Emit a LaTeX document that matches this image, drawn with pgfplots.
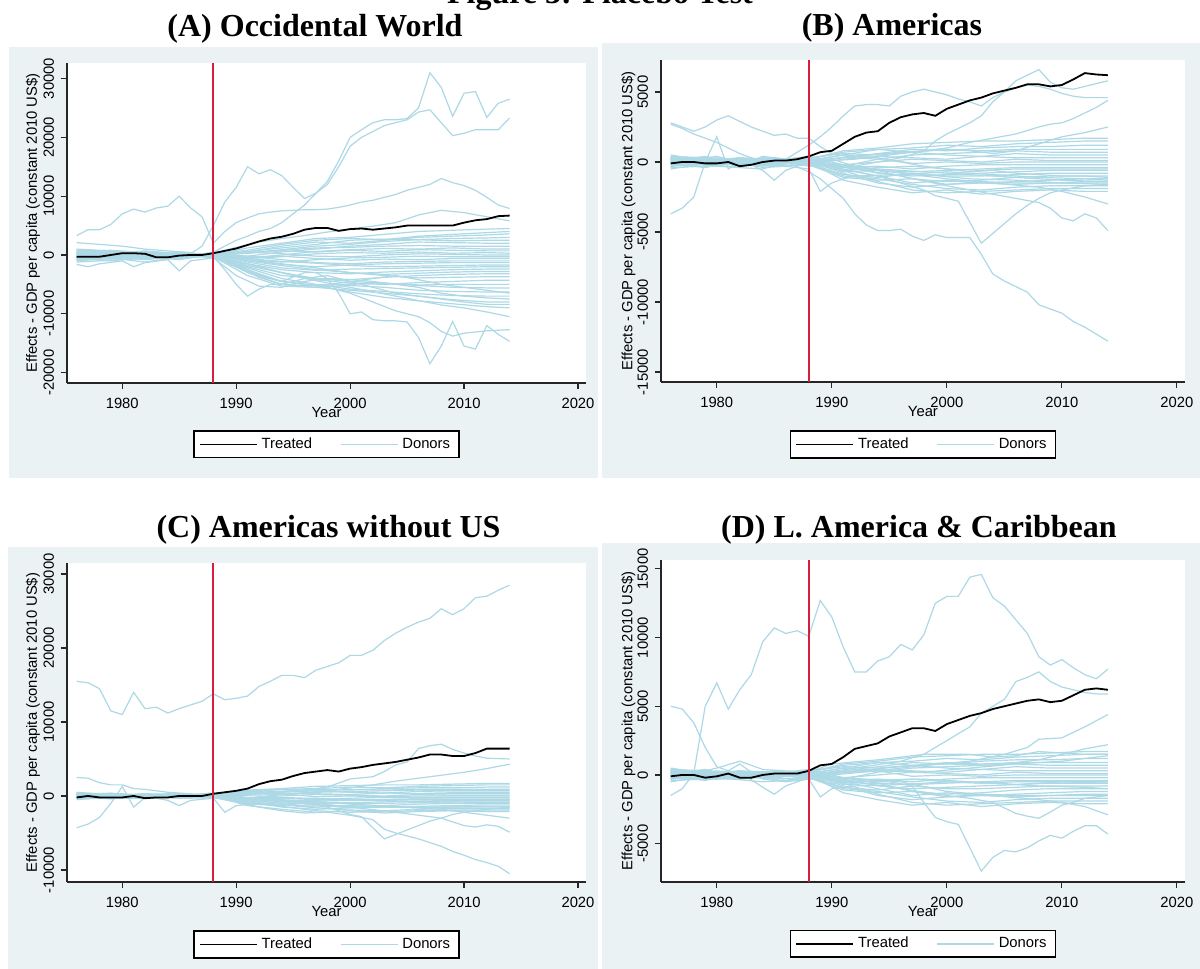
\documentclass[border=0pt]{standalone}
\usepackage{fontspec}
\setmainfont{Liberation Sans}
\newfontfamily\titlefont{Liberation Serif}
\usepackage{pgfplots}
\pgfplotsset{compat=1.18}
\definecolor{bgcol}{RGB}{234,242,243}
\definecolor{donorblue}{RGB}{173,216,230}
\definecolor{vred}{RGB}{215,30,60}
\newcommand{\lab}{\fontsize{7.4}{8.5}\selectfont}
\newcommand{\ttl}{\titlefont\bfseries\fontsize{16}{18}\selectfont}
\pgfplotsset{
 donor/.style={donorblue, line width=0.6pt, forget plot},
 treat/.style={black, line width=0.9pt, forget plot},
 stata/.style={
  scale only axis, anchor=south west,
  axis x line*=bottom, axis y line*=left,
  axis line style={-, line width=0.8pt, black!85},
  axis background/.style={fill=white},
  tick align=outside, major tick length=3pt,
  tick style={black!85, line width=0.6pt},
  xmin=1975.15, xmax=2020.7,
  xtick={1980,1990,2000,2010,2020},
  tick label style={font=\lab},
  label style={font=\lab},
  /pgf/number format/assume math mode=true,
  /pgf/number format/1000 sep={},
  /pgf/number format/fixed,
  scaled ticks=false,
  yticklabel style={rotate=90, anchor=south},
  xticklabel style={yshift=-1pt},
  xlabel={Year},
  ylabel={Effects - GDP per capita (constant 2010 US\$)},
  xlabel style={at={(axis description cs:0.5,0)}, anchor=center, yshift=-15pt},
  legend columns=2,
  legend style={draw=black, line width=0.8pt, fill=white, font=\lab, anchor=center,
    inner xsep=2.5pt, inner ysep=1.2pt,
    /tikz/every even column/.append style={column sep=12pt}},
  legend image code/.code={\draw[##1] (0pt,0pt) -- (28.5pt,0pt);},
 },
}
\newcommand{\D}[1]{\addplot[donor] coordinates {#1};}
\newcommand{\LegendEntries}{%
 \addlegendimage{black, line width=0.9pt}\addlegendentry{Treated}
 \addlegendimage{donorblue, line width=0.6pt}\addlegendentry{Donors}}
% donor pool shared by the three American panels
\newcommand{\AmBulk}{%
\D{(1976,300)(1979,-100)(1982,200)(1985,100)(1988,200)(1991,800)(1994,1000)(1997,1300)(2000,1400)(2003,1500)(2006,1500)(2009,1600)(2012,1700)(2014,1700)}
\D{(1976,-200)(1979,200)(1982,-100)(1985,0)(1988,100)(1991,500)(1994,900)(1997,1000)(2000,1200)(2003,1100)(2006,1300)(2009,1400)(2012,1500)(2014,1500)}
\D{(1976,400)(1979,300)(1982,0)(1985,200)(1988,0)(1991,300)(1994,600)(1997,900)(2000,800)(2003,1000)(2006,1100)(2009,1100)(2012,1200)(2014,1200)}
\D{(1976,-300)(1979,-100)(1982,300)(1985,-200)(1988,300)(1991,600)(1994,500)(1997,700)(2000,900)(2003,800)(2006,900)(2009,900)(2012,900)(2014,900)}
\D{(1976,100)(1979,400)(1982,-200)(1985,300)(1988,-100)(1991,-300)(1994,200)(1997,500)(2000,600)(2003,700)(2006,800)(2009,700)(2012,700)(2014,700)}
\D{(1976,500)(1979,100)(1982,300)(1985,-100)(1988,200)(1991,700)(1994,900)(1997,700)(2000,500)(2003,400)(2006,600)(2009,500)(2012,500)(2014,500)}
\D{(1976,-400)(1979,-300)(1982,-100)(1985,-300)(1988,-200)(1991,200)(1994,400)(1997,300)(2000,200)(2003,400)(2006,300)(2009,300)(2012,300)(2014,300)}
\D{(1976,200)(1979,0)(1982,100)(1985,100)(1988,400)(1991,-200)(1994,0)(1997,200)(2000,100)(2003,0)(2006,200)(2009,100)(2012,100)(2014,100)}
\D{(1976,0)(1979,-200)(1982,300)(1985,200)(1988,100)(1991,500)(1994,300)(1997,-100)(2000,0)(2003,-100)(2006,0)(2009,0)(2012,0)(2014,0)}
\D{(1976,300)(1979,100)(1982,-300)(1985,-100)(1988,0)(1991,-400)(1994,-300)(1997,-500)(2000,-300)(2003,-200)(2006,-200)(2009,-200)(2012,-200)(2014,-200)}
\D{(1976,-100)(1979,300)(1982,0)(1985,100)(1988,-300)(1991,-200)(1994,-600)(1997,-700)(2000,-600)(2003,-500)(2006,-400)(2009,-400)(2012,-400)(2014,-400)}
\D{(1976,200)(1979,-200)(1982,-100)(1985,300)(1988,0)(1991,-600)(1994,-400)(1997,-300)(2000,-500)(2003,-600)(2006,-500)(2009,-500)(2012,-500)(2014,-500)}
\D{(1976,-500)(1979,-100)(1982,200)(1985,-200)(1988,200)(1991,-300)(1994,-800)(1997,-1000)(2000,-900)(2003,-800)(2006,-700)(2009,-600)(2012,-600)(2014,-600)}
\D{(1976,100)(1979,200)(1982,-200)(1985,0)(1988,-100)(1991,-900)(1994,-1100)(1997,-800)(2000,-1000)(2003,-1000)(2006,-900)(2009,-800)(2012,-800)(2014,-800)}
\D{(1976,400)(1979,0)(1982,100)(1985,-100)(1988,300)(1991,-700)(1994,-600)(1997,-1200)(2000,-1400)(2003,-1300)(2006,-1100)(2009,-1000)(2012,-1000)(2014,-1000)}
\D{(1976,-200)(1979,-300)(1982,-300)(1985,200)(1988,0)(1991,-500)(1994,-1000)(1997,-1500)(2000,-1300)(2003,-1500)(2006,-1400)(2009,-1300)(2012,-1200)(2014,-1200)}
\D{(1976,0)(1979,100)(1982,200)(1985,-300)(1988,-200)(1991,-1100)(1994,-1300)(1997,-1200)(2000,-1600)(2003,-1500)(2006,-1600)(2009,-1500)(2012,-1400)(2014,-1400)}
\D{(1976,-300)(1979,-100)(1982,0)(1985,100)(1988,100)(1991,-800)(1994,-1500)(1997,-1800)(2000,-1600)(2003,-1400)(2006,-1500)(2009,-1500)(2012,-1500)(2014,-1500)}
\D{(1976,300)(1979,200)(1982,-300)(1985,0)(1988,-100)(1991,-1000)(1994,-1200)(1997,-1600)(2000,-1900)(2003,-2000)(2006,-1800)(2009,-1700)(2012,-1700)(2014,-1700)}
\D{(1976,-100)(1979,-400)(1982,100)(1985,-100)(1988,200)(1991,-600)(1994,-1400)(1997,-2000)(2000,-2200)(2003,-2100)(2006,-2000)(2009,-1900)(2012,-1900)(2014,-1900)}
\D{(1976,200)(1979,100)(1982,0)(1985,200)(1988,0)(1991,-1300)(1994,-1800)(1997,-2200)(2000,-2000)(2003,-2300)(2006,-2100)(2009,-2000)(2012,-2100)(2014,-2100)}
}
\begin{document}
\begin{tikzpicture}
\fill[white] (0pt,0pt) rectangle (600pt,-484.5pt);
\fill[bgcol] (4.5pt,-23.5pt) rectangle (299pt,-239pt);
\fill[bgcol] (301pt,-21.5pt) rectangle (600pt,-239pt);
\fill[bgcol] (4pt,-273.5pt) rectangle (299pt,-484.5pt);
\fill[bgcol] (301pt,-271.5pt) rectangle (600pt,-484.5pt);
\node[overlay, anchor=base, font=\ttl] at (300pt,-1.6pt) {Figure 3: Placebo Test};
\node[anchor=base, font=\ttl] at (157.5pt,-18.5pt) {(A) Occidental World};
\node[anchor=base, font=\ttl] at (446pt,-18pt) {(B) Americas};
\node[anchor=base, font=\ttl] at (164.25pt,-268.7pt) {(C) Americas without US};
\node[anchor=base, font=\ttl] at (459.5pt,-268.7pt) {(D) L. America \& Caribbean};

% ---------------- (A) Occidental World ----------------
\begin{axis}[stata, at={(33.5pt,-191.5pt)}, width=259.5pt, height=160pt,
  ymin=-21770, ymax=32650, ytick={-20000,-10000,0,10000,20000,30000},
  ylabel style={at={(axis description cs:-0.0655,0.5)}, anchor=center},
  legend style={at={(0.5,-0.192)}}]
\LegendEntries
\D{(1976,300)(1979,-200)(1982,400)(1985,200)(1988,0)(1991,1200)(1994,2000)(1997,2800)(2000,3000)(2003,3500)(2006,4000)(2009,4200)(2012,4400)(2014,4500)}
\D{(1976,-500)(1979,-300)(1982,200)(1985,-100)(1988,200)(1991,800)(1994,1800)(1997,2500)(2000,2800)(2003,2600)(2006,3200)(2009,3500)(2012,3800)(2014,4000)}
\D{(1976,600)(1979,800)(1982,300)(1985,500)(1988,-100)(1991,500)(1994,1500)(1997,2200)(2000,2000)(2003,2500)(2006,3000)(2009,3200)(2012,3400)(2014,3600)}
\D{(1976,-800)(1979,-400)(1982,0)(1985,300)(1988,100)(1991,600)(1994,1200)(1997,1800)(2000,2500)(2003,2700)(2006,2600)(2009,2800)(2012,2900)(2014,3000)}
\D{(1976,200)(1979,500)(1982,-300)(1985,-200)(1988,0)(1991,300)(1994,900)(1997,1500)(2000,1800)(2003,2300)(2006,2600)(2009,2400)(2012,2500)(2014,2500)}
\D{(1976,1000)(1979,700)(1982,500)(1985,400)(1988,-100)(1991,-200)(1994,500)(1997,1000)(2000,1500)(2003,1800)(2006,2200)(2009,2100)(2012,2000)(2014,2000)}
\D{(1976,-1200)(1979,-900)(1982,-600)(1985,-300)(1988,-200)(1991,400)(1994,800)(1997,1200)(2000,1300)(2003,1500)(2006,1600)(2009,1500)(2012,1500)(2014,1500)}
\D{(1976,500)(1979,0)(1982,-200)(1985,100)(1988,100)(1991,-500)(1994,0)(1997,600)(2000,900)(2003,1100)(2006,1000)(2009,1200)(2012,1000)(2014,1000)}
\D{(1976,-300)(1979,-600)(1982,-400)(1985,-500)(1988,0)(1991,300)(1994,700)(1997,500)(2000,800)(2003,600)(2006,900)(2009,800)(2012,700)(2014,700)}
\D{(1976,800)(1979,400)(1982,600)(1985,200)(1988,-200)(1991,-600)(1994,-300)(1997,200)(2000,400)(2003,300)(2006,500)(2009,300)(2012,400)(2014,300)}
\D{(1976,-700)(1979,-200)(1982,-800)(1985,-300)(1988,100)(1991,500)(1994,200)(1997,-200)(2000,-300)(2003,0)(2006,200)(2009,100)(2012,0)(2014,0)}
\D{(1976,200)(1979,300)(1982,100)(1985,500)(1988,-100)(1991,-800)(1994,-1200)(1997,-800)(2000,-500)(2003,-400)(2006,-200)(2009,-300)(2012,-300)(2014,-300)}
\D{(1976,-400)(1979,-700)(1982,-100)(1985,-600)(1988,0)(1991,-400)(1994,-200)(1997,-600)(2000,-900)(2003,-700)(2006,-800)(2009,-600)(2012,-600)(2014,-600)}
\D{(1976,400)(1979,100)(1982,500)(1985,300)(1988,200)(1991,-200)(1994,-800)(1997,-1300)(2000,-1500)(2003,-1200)(2006,-1100)(2009,-1000)(2012,-1000)(2014,-1000)}
\D{(1976,-1000)(1979,-500)(1982,-1200)(1985,-400)(1988,-100)(1991,-900)(1994,-1600)(1997,-2000)(2000,-1700)(2003,-1500)(2006,-1400)(2009,-1300)(2012,-1300)(2014,-1300)}
\D{(1976,100)(1979,-300)(1982,300)(1985,-200)(1988,0)(1991,-600)(1994,-1100)(1997,-1400)(2000,-1800)(2003,-2000)(2006,-1900)(2009,-1800)(2012,-1700)(2014,-1700)}
\D{(1976,-200)(1979,200)(1982,-500)(1985,-100)(1988,200)(1991,-1200)(1994,-2200)(1997,-2600)(2000,-2400)(2003,-2300)(2006,-2200)(2009,-2100)(2012,-2000)(2014,-2000)}
\D{(1976,700)(1979,500)(1982,-100)(1985,300)(1988,-300)(1991,-1500)(1994,-2500)(1997,-3000)(2000,-3200)(2003,-2900)(2006,-2700)(2009,-2500)(2012,-2400)(2014,-2400)}
\D{(1976,-600)(1979,-1000)(1982,-300)(1985,-800)(1988,100)(1991,-1000)(1994,-1800)(1997,-2500)(2000,-3000)(2003,-3300)(2006,-3100)(2009,-2900)(2012,-2800)(2014,-2800)}
\D{(1976,300)(1979,-100)(1982,400)(1985,0)(1988,-200)(1991,-2000)(1994,-3500)(1997,-4000)(2000,-4200)(2003,-3800)(2006,-3500)(2009,-3300)(2012,-3200)(2014,-3200)}
\D{(1976,-300)(1979,100)(1982,-600)(1985,-300)(1988,0)(1991,-800)(1994,-1500)(1997,-2200)(2000,-3000)(2003,-3500)(2006,-3900)(2009,-3800)(2012,-3700)(2014,-3700)}
\D{(1976,900)(1979,600)(1982,200)(1985,-100)(1988,100)(1991,-1800)(1994,-3000)(1997,-4200)(2000,-4800)(2003,-5000)(2006,-4700)(2009,-4500)(2012,-4300)(2014,-4300)}
\D{(1976,-100)(1979,-500)(1982,200)(1985,-400)(1988,-200)(1991,-2500)(1994,-4500)(1997,-5200)(2000,-5000)(2003,-4800)(2006,-5100)(2009,-5000)(2012,-5000)(2014,-5000)}
\D{(1976,200)(1979,0)(1982,-300)(1985,200)(1988,0)(1991,-1500)(1994,-3000)(1997,-4000)(2000,-4500)(2003,-4800)(2006,-5200)(2009,-5500)(2012,-5600)(2014,-5600)}
\D{(1976,-900)(1979,-600)(1982,-100)(1985,-500)(1988,-100)(1991,-3000)(1994,-5000)(1997,-5500)(2000,-5200)(2003,-5500)(2006,-6000)(2009,-6200)(2012,-6300)(2014,-6300)}
\D{(1976,500)(1979,200)(1982,700)(1985,100)(1988,200)(1991,-2200)(1994,-4000)(1997,-5000)(2000,-5800)(2003,-6200)(2006,-6600)(2009,-6900)(2012,-7000)(2014,-7000)}
\D{(1976,-400)(1979,-200)(1982,-700)(1985,-200)(1988,-300)(1991,-3500)(1994,-5300)(1997,-5500)(2000,-6000)(2003,-6500)(2006,-7000)(2009,-7600)(2012,-8000)(2014,-8000)}
\D{(1976,100)(1979,400)(1982,-200)(1985,300)(1988,100)(1991,-2800)(1994,-4500)(1997,-5200)(2000,-6300)(2003,-7200)(2006,-7800)(2009,-8300)(2012,-8800)(2014,-9000)}
% distinctive donors
\D{(1976,3300)(1977,4300)(1978,4300)(1979,5200)(1980,7000)(1981,7800)(1982,7300)(1983,8000)(1984,8300)(1985,10000)(1986,8000)(1987,6500)(1988,2000)(1989,4000)(1990,5500)(1991,6300)(1992,7000)(1993,7300)(1994,7500)(1995,7600)(1996,7700)(1997,7700)(1998,7800)(1999,8100)(2000,8500)(2001,9000)(2002,9300)(2003,9800)(2004,10300)(2005,11000)(2006,11500)(2007,12000)(2008,13000)(2009,12300)(2010,11800)(2011,11000)(2012,9800)(2013,8500)(2014,7900)}
\D{(1976,-800)(1978,-500)(1980,-200)(1982,300)(1984,-300)(1986,200)(1987,1500)(1988,5000)(1989,9000)(1990,11500)(1991,15000)(1992,13800)(1993,14500)(1994,13500)(1995,11500)(1996,9600)(1997,10500)(1998,12500)(1999,16000)(2000,20000)(2001,21300)(2002,22500)(2003,23000)(2004,23000)(2005,23200)(2006,25000)(2007,31000)(2008,28500)(2009,23600)(2010,27500)(2011,27800)(2012,23400)(2013,25800)(2014,26500)}
\D{(1976,500)(1978,200)(1980,-300)(1982,0)(1984,400)(1986,-200)(1988,500)(1989,1500)(1990,2500)(1991,3200)(1992,4000)(1993,4500)(1994,5500)(1995,7000)(1996,8500)(1997,10500)(1998,12000)(1999,15000)(2000,18500)(2001,20000)(2002,21000)(2003,22000)(2004,22500)(2005,23000)(2006,24300)(2007,24700)(2008,22500)(2009,20300)(2010,20700)(2011,21300)(2012,21300)(2013,21300)(2014,23300)}
\D{(1976,-200)(1980,300)(1984,-100)(1988,300)(1990,1300)(1992,2200)(1994,2800)(1996,3300)(1998,3900)(2000,4400)(2002,4900)(2004,5500)(2006,6800)(2008,7600)(2010,7200)(2012,6500)(2014,5800)}
\D{(1976,200)(1980,-400)(1984,300)(1988,-500)(1990,-1500)(1992,-3500)(1994,-4500)(1996,-3000)(1997,-3000)(1998,-4000)(1999,-6500)(2000,-10000)(2001,-9700)(2002,-11000)(2003,-11200)(2004,-11200)(2005,-11400)(2006,-14000)(2007,-18500)(2008,-15500)(2009,-11300)(2010,-15500)(2011,-16000)(2012,-12000)(2013,-13500)(2014,-14700)}
\D{(1976,-300)(1980,200)(1984,-200)(1988,-300)(1990,-2000)(1992,-3500)(1994,-4500)(1996,-5000)(1998,-5500)(2000,-6500)(2002,-8000)(2004,-9500)(2006,-10500)(2007,-11500)(2008,-13000)(2009,-13800)(2010,-13300)(2012,-12900)(2014,-12700)}
\D{(1976,100)(1980,-100)(1984,200)(1988,0)(1992,-2000)(1996,-4000)(2000,-5500)(2004,-7000)(2008,-8500)(2010,-9000)(2012,-9700)(2014,-10500)}
\D{(1976,-500)(1980,0)(1984,-300)(1988,-200)(1989,-2500)(1990,-5000)(1991,-7000)(1992,-5800)(1993,-5000)(1994,-5000)(1996,-4000)(1998,-3500)(2000,-4500)(2002,-5500)(2004,-6500)(2006,-7000)(2008,-7500)(2010,-8000)(2012,-8400)(2014,-8400)}
\D{(1976,2100)(1978,1800)(1980,1500)(1982,1000)(1984,700)(1986,400)(1988,-500)(1990,-2000)(1992,-3800)(1994,-5000)(1996,-5200)(1998,-5000)(2000,-4600)(2002,-4000)(2004,-3500)(2006,-4200)(2008,-5000)(2010,-5500)(2012,-6000)(2014,-6500)}
\D{(1976,-1600)(1977,-2000)(1978,-1500)(1980,-1000)(1981,-2000)(1982,-1300)(1984,-800)(1985,-2700)(1986,-1000)(1988,-500)(1990,-3500)(1992,-5300)(1994,-5500)(1996,-4500)(1998,-4000)(2000,-4200)(2002,-4500)(2004,-5000)(2006,-5500)(2008,-6500)(2010,-7000)(2012,-7300)(2014,-7500)}
\addplot[treat] coordinates {(1976,-300)(1977,-300)(1978,-300)(1979,0)(1980,300)(1981,300)(1982,200)(1983,-400)(1984,-400)(1985,-100)(1986,0)(1987,0)(1988,300)(1989,700)(1990,1100)(1991,1700)(1992,2300)(1993,2800)(1994,3100)(1995,3600)(1996,4300)(1997,4600)(1998,4600)(1999,4100)(2000,4400)(2001,4500)(2002,4300)(2003,4500)(2004,4700)(2005,5000)(2006,5000)(2007,5000)(2008,5000)(2009,5000)(2010,5500)(2011,5900)(2012,6100)(2013,6600)(2014,6700)};
\addplot[vred, line width=1pt, forget plot] coordinates {(1988,-21770)(1988,32650)};
\end{axis}

% ---------------- (B) Americas ----------------
\begin{axis}[stata, at={(330.5pt,-191pt)}, width=262pt, height=161pt,
  ymin=-15714, ymax=7286, ytick={-15000,-10000,-5000,0,5000},
  ylabel style={at={(axis description cs:-0.062,0.5)}, anchor=center},
  legend style={at={(0.5,-0.194)}}]
\LegendEntries
\AmBulk
\D{(1976,2800)(1977,2500)(1978,2200)(1979,2500)(1980,3000)(1981,3300)(1982,2900)(1983,2500)(1984,2200)(1985,1900)(1986,2000)(1987,1700)(1988,1700)(1989,1100)(1990,600)(1992,300)(1994,200)(1996,0)(1998,-300)(2000,-500)(2002,-700)(2004,-600)(2006,-800)(2008,-900)(2010,-1000)(2012,-1000)(2014,-1100)}
\D{(1976,2700)(1977,2400)(1978,2000)(1979,1700)(1980,1400)(1981,1000)(1982,600)(1983,300)(1984,0)(1985,-300)(1986,0)(1987,200)(1988,100)(1990,-300)(1994,-600)(1998,-900)(2002,-1200)(2006,-1300)(2010,-1500)(2014,-1600)}
\D{(1976,-3700)(1977,-3300)(1978,-2500)(1979,0)(1980,1800)(1981,-500)(1982,0)(1983,-200)(1984,-600)(1985,-1300)(1986,-600)(1987,-300)(1988,0)(1990,-200)(1994,-500)(1998,-700)(2002,-900)(2006,-1100)(2010,-1300)(2014,-1400)}
\D{(1976,300)(1978,-200)(1980,200)(1982,-300)(1984,400)(1986,200)(1988,1200)(1989,1800)(1990,2500)(1991,3300)(1992,4000)(1993,4100)(1994,4100)(1995,4000)(1996,4700)(1997,5000)(1998,5200)(1999,5000)(2000,4800)(2001,4500)(2002,4300)(2003,4000)(2004,4600)(2005,5000)(2006,5300)(2007,5500)(2008,5400)(2009,5200)(2010,4900)(2011,4700)(2012,4600)(2013,4600)(2014,4600)}
\D{(1976,-300)(1978,200)(1980,-100)(1982,300)(1984,-200)(1986,100)(1988,-200)(1990,200)(1992,-300)(1994,0)(1996,300)(1998,800)(1999,1500)(2000,2000)(2001,2400)(2002,2800)(2003,3300)(2004,4300)(2005,5000)(2006,5800)(2007,6200)(2008,6600)(2009,5700)(2010,5300)(2011,5200)(2012,5400)(2013,5600)(2014,5800)}
\D{(1976,200)(1980,-300)(1984,300)(1988,0)(1992,200)(1996,600)(2000,1000)(2002,1400)(2004,1700)(2006,2000)(2008,2500)(2009,2700)(2010,2800)(2011,3100)(2012,3500)(2013,3900)(2014,4400)}
\D{(1976,-200)(1980,200)(1984,-100)(1988,100)(1992,400)(1996,700)(2000,900)(2002,800)(2004,600)(2006,800)(2008,1300)(2010,1800)(2012,2100)(2014,2500)}
\D{(1976,200)(1980,-300)(1984,-500)(1986,0)(1988,-700)(1989,-1200)(1990,-1900)(1991,-2600)(1992,-3700)(1993,-4500)(1994,-4900)(1995,-4900)(1996,-4800)(1997,-5300)(1998,-5600)(1999,-5200)(2000,-5400)(2001,-5400)(2002,-5400)(2003,-6600)(2004,-8000)(2005,-8500)(2006,-8900)(2007,-9300)(2008,-10200)(2009,-10500)(2010,-10800)(2011,-11400)(2012,-11800)(2013,-12300)(2014,-12800)}
\D{(1976,100)(1980,-200)(1984,300)(1988,0)(1990,-500)(1992,-700)(1994,-1000)(1996,-1500)(1998,-2000)(1999,-2400)(2000,-2600)(2001,-2800)(2002,-4300)(2003,-5800)(2004,-5100)(2005,-4400)(2006,-3700)(2007,-3100)(2008,-2600)(2009,-2200)(2010,-2000)(2012,-1700)(2014,-1600)}
\D{(1976,-100)(1980,300)(1984,-300)(1988,0)(1992,-500)(1996,-1000)(2000,-1700)(2004,-2300)(2006,-2600)(2008,-2900)(2009,-3300)(2010,-4000)(2011,-4200)(2012,-3700)(2013,-4000)(2014,-4900)}
\D{(1976,300)(1980,0)(1984,200)(1988,100)(1992,-300)(1996,-800)(2000,-1200)(2004,-1500)(2008,-1800)(2010,-2100)(2012,-2500)(2014,-3000)}
\D{(1976,0)(1980,400)(1984,-400)(1986,-300)(1987,-400)(1988,-500)(1989,-2100)(1990,-1500)(1991,-1200)(1992,-1000)(1996,-900)(2000,-700)(2004,-900)(2008,-1100)(2012,-1200)(2014,-1300)}
\addplot[treat] coordinates {(1976,-100)(1977,0)(1978,0)(1979,-100)(1980,-100)(1981,0)(1982,-300)(1983,-200)(1984,0)(1985,100)(1986,100)(1987,200)(1988,400)(1989,700)(1990,800)(1991,1300)(1992,1800)(1993,2100)(1994,2200)(1995,2800)(1996,3200)(1997,3400)(1998,3500)(1999,3300)(2000,3800)(2001,4100)(2002,4400)(2003,4600)(2004,4900)(2005,5100)(2006,5300)(2007,5550)(2008,5550)(2009,5400)(2010,5500)(2011,5900)(2012,6350)(2013,6250)(2014,6200)};
\addplot[vred, line width=1pt, forget plot] coordinates {(1988,-15714)(1988,7286)};
\end{axis}

% ---------------- (C) Americas without US ----------------
\begin{axis}[stata, at={(33.5pt,-441pt)}, width=259.5pt, height=159.5pt,
  ymin=-11620, ymax=31490, ytick={-10000,0,10000,20000,30000},
  ylabel style={at={(axis description cs:-0.0655,0.5)}, anchor=center},
  legend style={at={(0.5,-0.196)}}]
\LegendEntries
\AmBulk
\D{(1976,15500)(1977,15300)(1978,14500)(1979,11500)(1980,11000)(1981,14000)(1982,11800)(1983,12000)(1984,11200)(1985,11800)(1986,12300)(1987,12800)(1988,13800)(1989,13000)(1990,13200)(1991,13500)(1992,14800)(1993,15500)(1994,16300)(1995,16300)(1996,16000)(1997,17000)(1998,17500)(1999,18000)(2000,19000)(2001,19000)(2002,19700)(2003,21000)(2004,22000)(2005,22800)(2006,23500)(2007,24000)(2008,25300)(2009,24500)(2010,25300)(2011,26800)(2012,27000)(2013,27800)(2014,28500)}
\D{(1976,0)(1980,300)(1984,-200)(1988,0)(1992,500)(1996,800)(1998,1200)(2000,2300)(2002,2600)(2003,3300)(2004,4200)(2005,4600)(2006,6400)(2007,6800)(2008,7000)(2009,6300)(2010,5800)(2011,5400)(2012,5100)(2014,5000)}
\D{(1976,200)(1980,-100)(1984,300)(1988,0)(1994,200)(1998,700)(2002,1500)(2004,2000)(2006,2400)(2008,2800)(2010,3200)(2012,3700)(2014,4300)}
\D{(1976,300)(1980,-300)(1984,200)(1988,-200)(1990,-800)(1992,-1500)(1994,-2000)(1996,-2300)(1998,-2200)(2000,-2600)(2002,-3200)(2003,-4500)(2004,-5000)(2006,-5800)(2008,-6800)(2009,-7500)(2010,-8000)(2011,-8600)(2012,-9000)(2013,-9500)(2014,-10500)}
\D{(1976,-100)(1980,200)(1984,-200)(1988,0)(1992,-500)(1996,-1000)(1998,-1500)(2000,-2500)(2001,-2800)(2002,-4300)(2003,-5800)(2004,-5200)(2005,-4600)(2006,-4000)(2007,-3400)(2008,-3000)(2009,-2500)(2010,-2200)(2012,-1800)(2014,-1500)}
\D{(1976,100)(1980,-200)(1984,100)(1988,0)(1992,-400)(1996,-800)(2000,-1500)(2004,-2200)(2006,-2600)(2008,-3000)(2009,-3500)(2010,-4000)(2011,-4200)(2012,-3900)(2013,-4100)(2014,-4900)}
\D{(1976,-200)(1980,100)(1984,-100)(1988,0)(1996,-700)(2000,-1100)(2004,-1400)(2008,-1800)(2010,-2200)(2012,-2600)(2014,-3000)}
\D{(1976,2500)(1977,2400)(1978,1800)(1979,1500)(1980,1500)(1981,1000)(1982,900)(1984,500)(1986,300)(1988,0)(1990,-300)(1994,-200)(1998,-400)(2002,-500)(2006,-400)(2010,-500)(2014,-500)}
\D{(1976,-4300)(1977,-3800)(1978,-2900)(1979,-1000)(1980,1300)(1981,-1500)(1982,-200)(1983,-300)(1984,-600)(1985,-1300)(1986,-600)(1988,-300)(1989,-2200)(1990,-1300)(1992,-1000)(1996,-600)(2000,-500)(2004,-700)(2008,-800)(2014,-900)}
\addplot[treat] coordinates {(1976,-200)(1977,0)(1978,-200)(1979,-200)(1980,-200)(1981,0)(1982,-300)(1983,-200)(1984,-200)(1985,0)(1986,0)(1987,0)(1988,300)(1989,500)(1990,700)(1991,1000)(1992,1600)(1993,2000)(1994,2200)(1995,2700)(1996,3100)(1997,3300)(1998,3500)(1999,3300)(2000,3700)(2001,3900)(2002,4200)(2003,4400)(2004,4600)(2005,4900)(2006,5200)(2007,5600)(2008,5600)(2009,5400)(2010,5400)(2011,5800)(2012,6400)(2013,6400)(2014,6400)};
\addplot[vred, line width=1pt, forget plot] coordinates {(1988,-11620)(1988,31490)};
\end{axis}

% ---------------- (D) L. America & Caribbean ----------------
\begin{axis}[stata, at={(330.5pt,-441pt)}, width=262pt, height=161pt,
  ymin=-7790, ymax=15650, ytick={-5000,0,5000,10000,15000},
  ylabel style={at={(axis description cs:-0.062,0.5)}, anchor=center},
  legend style={at={(0.5,-0.1925)}}]
\LegendEntries
\AmBulk
\D{(1976,-1500)(1977,-1000)(1978,100)(1979,5000)(1980,6700)(1981,4800)(1982,6200)(1983,7300)(1984,9700)(1985,10700)(1986,10300)(1987,10500)(1988,10100)(1989,12700)(1990,11500)(1991,9300)(1992,7500)(1993,7500)(1994,8300)(1995,8600)(1996,9500)(1997,9100)(1998,10200)(1999,12500)(2000,13000)(2001,13000)(2002,14400)(2003,14600)(2004,12900)(2005,12300)(2006,11300)(2007,10300)(2008,8600)(2009,8000)(2010,8400)(2011,7800)(2012,7300)(2013,7000)(2014,7700)}
\D{(1976,5000)(1977,4800)(1978,3800)(1979,2000)(1980,600)(1981,300)(1982,800)(1983,200)(1984,-300)(1986,-500)(1988,-300)(1990,0)(1994,300)(1998,200)(2002,500)(2006,800)(2010,1000)(2014,1400)}
\D{(1976,-200)(1980,200)(1984,-100)(1988,0)(1992,500)(1996,1000)(1998,1500)(2000,2500)(2002,3500)(2003,4500)(2004,5000)(2005,5500)(2006,6800)(2007,7100)(2008,7500)(2009,6800)(2010,6400)(2011,6200)(2012,6000)(2013,5900)(2014,5900)}
\D{(1976,100)(1980,-100)(1984,200)(1988,0)(1994,300)(1998,700)(2002,1000)(2005,1500)(2007,2000)(2008,2600)(2010,2700)(2012,3500)(2014,4400)}
\D{(1976,300)(1980,-200)(1984,200)(1988,0)(1992,300)(1996,600)(2000,800)(2004,700)(2008,1100)(2010,1500)(2012,1900)(2014,2200)}
\D{(1976,0)(1980,-200)(1984,-500)(1988,-300)(1992,-500)(1995,-500)(1997,-800)(1998,-2000)(1999,-3100)(2000,-3400)(2001,-3600)(2002,-5300)(2003,-7000)(2004,-6000)(2005,-5500)(2006,-5600)(2007,-5300)(2008,-4800)(2009,-4400)(2010,-4600)(2011,-4100)(2012,-3700)(2013,-3700)(2014,-4300)}
\D{(1976,0)(1980,-300)(1984,200)(1988,0)(1992,-500)(1996,-1000)(2000,-1500)(2002,-1700)(2004,-2000)(2006,-2800)(2007,-3000)(2008,-3150)(2009,-2700)(2010,-2200)(2011,-2000)(2012,-1700)(2014,-1500)}
\D{(1976,200)(1980,0)(1984,-200)(1988,0)(1996,-500)(2000,-1200)(2004,-1500)(2008,-1800)(2010,-2000)(2012,-2300)(2014,-2900)}
\D{(1976,-200)(1980,300)(1984,0)(1987,-400)(1988,-300)(1989,-1600)(1990,-1000)(1992,-800)(1996,-700)(2000,-500)(2004,-600)(2008,-800)(2012,-900)(2014,-1000)}
\D{(1976,400)(1978,200)(1980,-300)(1982,200)(1984,-900)(1985,-1400)(1986,-800)(1988,-200)(1990,-600)(1994,-400)(1998,-300)(2002,-500)(2006,-700)(2010,-500)(2014,-600)}
\D{(1976,-300)(1980,500)(1982,1000)(1984,400)(1988,200)(1990,800)(1994,1100)(1996,1300)(1998,1500)(2000,1500)(2002,1500)(2004,1300)(2006,1400)(2008,1700)(2010,1600)(2012,1500)(2014,1500)}
\addplot[treat] coordinates {(1976,-100)(1977,0)(1978,0)(1979,-200)(1980,-100)(1981,100)(1982,-200)(1983,-200)(1984,0)(1985,100)(1986,100)(1987,100)(1988,300)(1989,700)(1990,800)(1991,1300)(1992,1900)(1993,2100)(1994,2300)(1995,2800)(1996,3100)(1997,3400)(1998,3400)(1999,3200)(2000,3700)(2001,4000)(2002,4300)(2003,4500)(2004,4800)(2005,5000)(2006,5200)(2007,5400)(2008,5500)(2009,5300)(2010,5400)(2011,5800)(2012,6200)(2013,6300)(2014,6200)};
\addplot[vred, line width=1pt, forget plot] coordinates {(1988,-7790)(1988,15650)};
\end{axis}
\end{tikzpicture}
\end{document}
